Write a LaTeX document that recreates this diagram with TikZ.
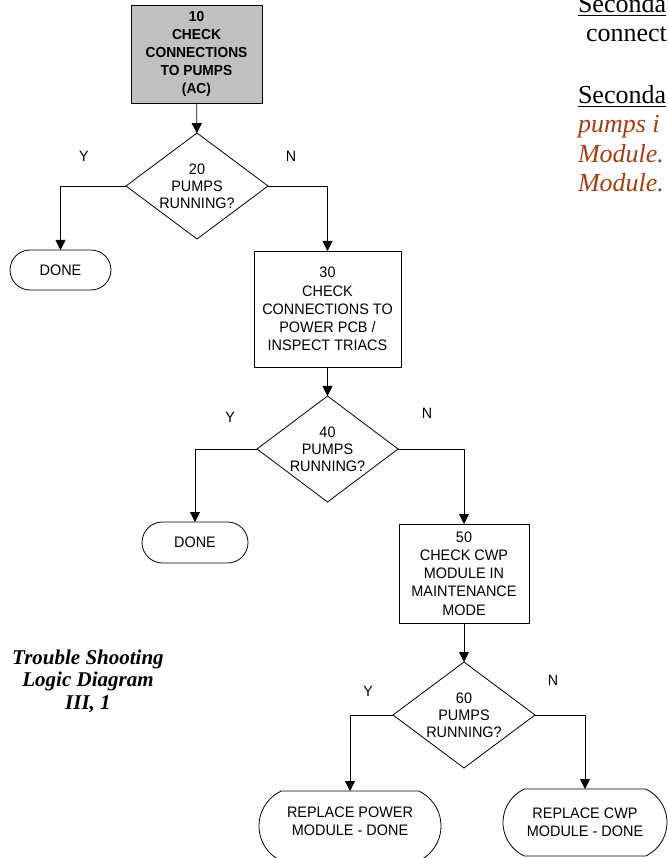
\documentclass[tikz,border=0pt]{standalone}
\usepackage{fontspec}
\setmainfont{Liberation Serif}
\newfontfamily\flowfont[FakeStretch=0.95]{Liberation Sans}
\usetikzlibrary{shapes.geometric,shapes.misc,arrows.meta}
\definecolor{boxgray}{RGB}{192,192,192}
\definecolor{notebrown}{RGB}{163,62,18}
% heading underline drawn as a solid rule under the word
\newcommand\headrule[1]{\setbox0\hbox{#1}\rlap{\rule[-3.5pt]{\wd0}{1.7pt}}\box0}

\begin{document}
\begin{tikzpicture}[x=1pt,y=-1pt,
  every node/.style={inner sep=0pt, outer sep=0pt},
  flow/.style={font=\flowfont\fontsize{15.2}{18.2}\selectfont, align=center, text=black},
  procbox/.style={flow, draw=black, line width=0.8pt, rectangle},
  decision/.style={flow, draw=black, line width=0.8pt, diamond, aspect=1.34,
    font=\flowfont\fontsize{15.2}{17}\selectfont},
  terminal/.style={flow, draw=black, line width=0.8pt, rounded rectangle},
  branch/.style={font=\flowfont\fontsize{15}{17}\selectfont},
  link/.style={draw=black, line width=0.8pt, -{Triangle[width=10pt,length=10pt]}},
  note/.style={font=\fontsize{26}{30}\selectfont, anchor=base west},
  italnote/.style={note, text=notebrown, font=\fontsize{26}{30}\selectfont\itshape},
  caption/.style={font=\fontsize{21}{22.5}\selectfont\bfseries\itshape, align=center},
]
\useasboundingbox (0,0) rectangle (668,858);
\clip (0,0) rectangle (668,858);

% process boxes
\node[procbox, fill=boxgray, minimum width=131pt, minimum height=98pt,
  font=\flowfont\bfseries\fontsize{14.5}{17.8}\selectfont] (s10) at (196.5,54)
  {10\\CHECK\\CONNECTIONS\\TO PUMPS\\(AC)};
\node[procbox, minimum width=147pt, minimum height=116pt] (s30) at (327.5,309)
  {30\\CHECK\\CONNECTIONS TO\\POWER PCB /\\INSPECT TRIACS};
\node[procbox, minimum width=130pt, minimum height=99pt] (s50) at (464,573.5)
  {50\\CHECK CWP\\MODULE IN\\MAINTENANCE\\MODE};

% decisions
\node[decision, minimum width=142pt, minimum height=106pt] (d20) at (197,186)
  {20\\PUMPS\\RUNNING?};
\node[decision, minimum width=141pt, minimum height=106pt] (d40) at (327.5,449)
  {40\\PUMPS\\RUNNING?};
\node[decision, minimum width=142pt, minimum height=106pt] (d60) at (464,715)
  {60\\PUMPS\\RUNNING?};

% terminals
\node[terminal, minimum width=101pt, minimum height=40pt] (t20) at (60.5,270) {DONE};
\node[terminal, minimum width=106pt, minimum height=41pt] (t40) at (195,542.5) {DONE};
\node[terminal, rounded rectangle arc length=130, minimum width=182pt, minimum height=70pt,
  text depth=10pt] (t60y) at (350,826) {REPLACE POWER\\MODULE - DONE};
\node[terminal, rounded rectangle arc length=130, minimum width=164pt, minimum height=67pt]
  (t60n) at (585,822.5) {REPLACE CWP\\MODULE - DONE};

% connectors
\draw[link] (s10) -- (d20);
\draw[link] (d20.west) -| (t20.north);
\draw[link] (d20.east) -| (s30.north);
\draw[link] (s30) -- (d40);
\draw[link] (d40.west) -| (t40.north);
\draw[link] (d40.east) -| (s50.north);
\draw[link] (s50) -- (d60);
\draw[link] (d60.west) -| (t60y.north);
\draw[link] (d60.east) -| (t60n.north);

% branch labels
\node[branch] (y20) at (84,156) {Y};
\node[branch] (n20) at (291,156) {N};
\node[branch] (y40) at (230,417) {Y};
\node[branch] (n40) at (427,413) {N};
\node[branch] (y60) at (368,691) {Y};
\node[branch] (n60) at (553,680) {N};

% caption
\node[caption] (cap) at (88,681) {Trouble Shooting\\Logic Diagram\\III, 1};

% side notes
\node[note] (sa) at (578,13) {\headrule{Seconda}};
\node[note] (sb) at (586,42) {connect};
\node[note] (sc) at (578,104) {\headrule{Seconda}};
\node[italnote] (sd) at (578,133) {pumps i};
\node[italnote] (se) at (578,163) {Module.};
\node[italnote] (sf) at (578,192) {Module.};
\end{tikzpicture}
\end{document}
